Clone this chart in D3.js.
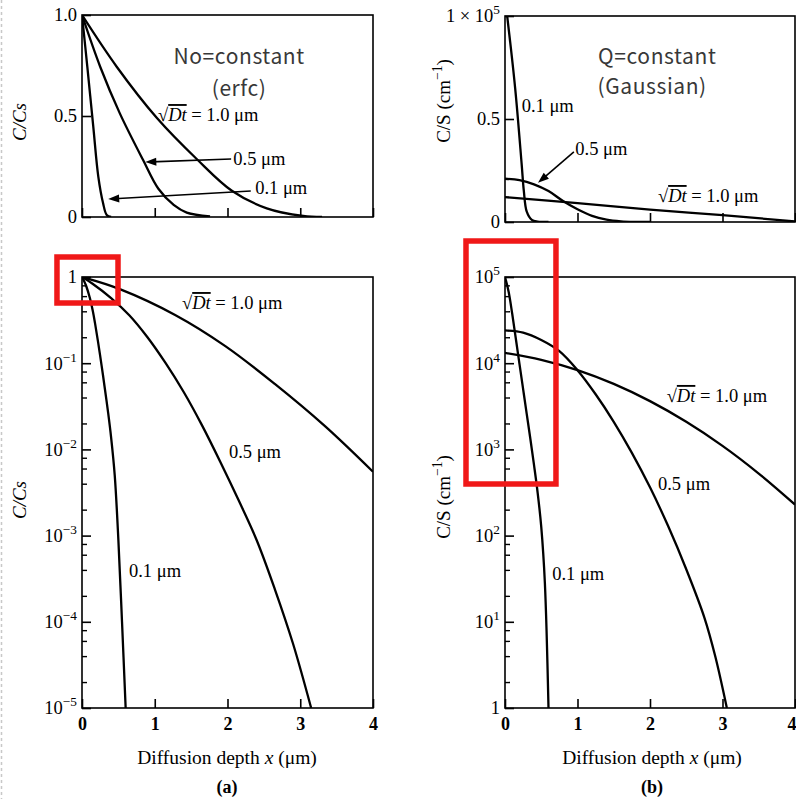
<!DOCTYPE html>
<html><head><meta charset="utf-8">
<script src="https://cdn.jsdelivr.net/npm/d3@7"></script>
<style>body{margin:0;background:#fff}svg{display:block}</style>
</head><body>
<svg id="c" width="796" height="799"></svg>
<script>
// ---------- data ----------
const depthTicks = [0, 1, 2, 3, 4];            // diffusion depth x (µm)

// (a) erfc, linear panel, C/Cs
const erfcLinDepth10 = [0, 0.477, 1.03, 1.58, 2.06, 2.54, 3.04, 3.3];
const erfcLinValue10 = [1, 0.744, 0.49, 0.286, 0.13, 0.043, 0.005, 0];
const erfcLinDepth05 = [0, 0.25, 0.52, 0.84, 1.05, 1.26, 1.44, 1.76];
const erfcLinValue05 = [1, 0.744, 0.513, 0.282, 0.14, 0.06, 0.022, 0.003];
const erfcLinDepth01 = [0, 0.073, 0.155, 0.224, 0.29, 0.34, 0.4];
const erfcLinValue01 = [1, 0.744, 0.447, 0.2, 0.068, 0.01, 0];

// (a) erfc, log panel, C/Cs
const erfcLogDepth10 = [0, 0.52, 1.28, 1.97, 2.65, 3.34, 4];
const erfcLogValue10 = [1, 0.724, 0.363, 0.158, 0.0575, 0.0186, 0.0055];
const erfcLogDepth05 = [0, 0.15, 0.4, 0.65, 0.9, 1.15, 1.4, 1.65, 1.9, 2.15, 2.4, 2.65, 2.9, 3.15];
const erfcLogValue05 = [1, 0.83, 0.57, 0.36, 0.2, 0.1, 0.046, 0.019, 0.0072, 0.0026, 0.00089, 0.00024, 0.000056, 0.00001];
const erfcLogDepth01 = [0, 0.03, 0.06, 0.11, 0.15, 0.18, 0.22, 0.27, 0.31, 0.36, 0.4, 0.45, 0.5, 0.55, 0.6];
const erfcLogValue01 = [1, 0.89, 0.776, 0.562, 0.398, 0.288, 0.178, 0.0933, 0.0537, 0.0263, 0.0138, 0.005, 0.00089, 0.0001, 0.00001];

// (b) Gaussian, linear panel, C/S (cm^-1)
const gLinDepth10 = [0, 1, 2, 3, 4];
const gLinValue10 = [12100, 9200, 6000, 3300, 300];
const gLinDepth05 = [0, 0.2, 0.4, 0.6, 0.8, 1.0, 1.2, 1.4, 1.6, 1.8, 2.0];
const gLinValue05 = [21000, 20300, 18300, 15000, 10200, 6200, 3000, 1200, 350, 60, 0];
const gLinDepth01 = [0.03, 0.14, 0.23, 0.26, 0.3, 0.37, 0.45, 0.6];
const gLinValue01 = [100000, 65000, 28000, 15000, 5000, 1000, 200, 0];

// (b) Gaussian, log panel, C/S (cm^-1)
const gLogDepth10 = [0, 0.5, 1, 1.5, 2, 2.5, 3, 3.5, 4];
const gLogValue10 = [13200, 10960, 8320, 5750, 3630, 2090, 1100, 525, 229];
const gLogDepth05 = [0, 0.25, 0.5, 0.75, 1.0, 1.25, 1.5, 1.75, 2.0, 2.25, 2.5, 2.75, 2.9, 3.06];
const gLogValue05 = [24000, 22650, 18600, 13800, 8300, 4365, 2090, 912, 363, 129, 40.7, 11.2, 3.98, 1];
const gLogDepth01 = [0, 0.05, 0.1, 0.15, 0.2, 0.25, 0.3, 0.35, 0.4, 0.45, 0.5, 0.55, 0.6];
const gLogValue01 = [100000, 67600, 37200, 19100, 9770, 5010, 2570, 1320, 661, 316, 126, 28.2, 1];

// tick values
const linTicksA = [0, 0.5, 1];
const linTicksB = [0, 50000, 100000];
const logTicksA = [1e-5, 1e-4, 1e-3, 1e-2, 1e-1, 1];
const logTicksB = [1, 1e1, 1e2, 1e3, 1e4, 1e5];
const minorMult = [2, 4, 6, 8];

// ---------- drawing ----------
const svg = d3.select('#c');
const serif = '"Liberation Serif","Times New Roman",serif';
const sans = '"Noto Sans CJK KR","Noto Sans",sans-serif';
const zip = (xs, vs) => xs.map((x, i) => [x, vs[i]]);

// dashed page edge
svg.append('line').attr('x1', 1.5).attr('x2', 1.5).attr('y1', 0).attr('y2', 799)
  .attr('stroke', '#c8c8c8').attr('stroke-width', 1.5).attr('stroke-dasharray', '3,3');

function addSup(t, base, sup, after) {
  t.append('tspan').text(base);
  t.append('tspan').attr('dy', -8).attr('font-size', '0.72em').text(sup);
  if (after) t.append('tspan').attr('dy', 8).text(after);
}
function dtLabel(g, px, py) {
  const t = g.append('text').attr('x', px).attr('y', py)
    .attr('font-family', serif).attr('font-size', 18.5).attr('fill', '#000');
  t.append('tspan').text('√');
  t.append('tspan').attr('font-style', 'italic').attr('text-decoration', 'overline').text('Dt');
  t.append('tspan').text(' = 1.0 μm');
}

const panels = [
  { key: 'tl', xr: [82, 373], yr: [217, 15], log: false, yd: [0, 1],
    series: [zip(erfcLinDepth10, erfcLinValue10), zip(erfcLinDepth05, erfcLinValue05), zip(erfcLinDepth01, erfcLinValue01)],
    major: linTicksA, xLabels: false,
    fmt: (t, v) => t.text(v === 1 ? '1.0' : v === 0.5 ? '0.5' : '0') },
  { key: 'tr', xr: [505, 795], yr: [222, 16], log: false, yd: [0, 1e5],
    series: [zip(gLinDepth10, gLinValue10), zip(gLinDepth05, gLinValue05), zip(gLinDepth01, gLinValue01)],
    major: linTicksB, xLabels: false,
    fmt: (t, v) => v === 1e5 ? addSup(t, '1 × 10', '5') : t.text(v === 0 ? '0' : '0.5') },
  { key: 'bl', xr: [82, 373], yr: [708, 277], log: true, yd: [1e-5, 1],
    series: [zip(erfcLogDepth10, erfcLogValue10), zip(erfcLogDepth05, erfcLogValue05), zip(erfcLogDepth01, erfcLogValue01)],
    major: logTicksA, xLabels: true,
    fmt: (t, v) => v === 1 ? t.text('1') : addSup(t, '10', '−' + Math.round(-Math.log10(v))) },
  { key: 'br', xr: [505, 795], yr: [708, 277], log: true, yd: [1, 1e5],
    series: [zip(gLogDepth10, gLogValue10), zip(gLogDepth05, gLogValue05), zip(gLogDepth01, gLogValue01)],
    major: logTicksB, xLabels: true,
    fmt: (t, v) => v === 1 ? t.text('1') : addSup(t, '10', String(Math.round(Math.log10(v)))) }
];

panels.forEach(p => {
  const x = d3.scaleLinear().domain([0, 4]).range(p.xr);
  const y = (p.log ? d3.scaleLog() : d3.scaleLinear()).domain(p.yd).range(p.yr);
  p.x = x; p.y = y;
  const g = svg.append('g');
  g.append('clipPath').attr('id', 'clip-' + p.key).append('rect')
    .attr('x', p.xr[0]).attr('y', p.yr[1]).attr('width', p.xr[1] - p.xr[0]).attr('height', p.yr[0] - p.yr[1]);

  const line = d3.line().x(d => x(d[0])).y(d => y(d[1])).curve(d3.curveCatmullRom.alpha(0.5));
  g.append('g').attr('clip-path', `url(#clip-${p.key})`).selectAll('path')
    .data(p.series)
    .join('path').attr('d', line).attr('fill', 'none').attr('stroke', '#000')
    .attr('stroke-width', 2.3).attr('stroke-linejoin', 'round');

  // frame
  g.append('rect').attr('x', p.xr[0]).attr('y', p.yr[1])
    .attr('width', p.xr[1] - p.xr[0]).attr('height', p.yr[0] - p.yr[1])
    .attr('fill', 'none').attr('stroke', '#000').attr('stroke-width', 1.6);

  // x axis (ticks inside)
  const xa = g.append('g').attr('transform', `translate(0,${p.yr[0]})`)
    .call(d3.axisBottom(x).tickValues(depthTicks).tickSize(-9).tickPadding(9)
      .tickFormat(p.xLabels ? d3.format('d') : () => ''));
  xa.select('.domain').remove();
  xa.selectAll('line').attr('stroke-width', 1.6);
  xa.selectAll('text').attr('font-family', serif).attr('font-size', 18).attr('font-weight', 'bold').attr('fill', '#000');
  if (p.key === 'br') {
    xa.selectAll('text').filter(d => d === 4).attr('text-anchor', 'end').attr('x', 796 - x(4));
  }

  // y axis major ticks
  const ya = g.append('g').attr('transform', `translate(${p.xr[0]},0)`)
    .call(d3.axisLeft(y).tickValues(p.major).tickSize(-9).tickFormat(() => ''));
  ya.select('.domain').remove();
  ya.selectAll('line').attr('stroke-width', 1.6);
  if (p.log) {
    const minor = [];
    p.major.slice(0, -1).forEach(m => minorMult.forEach(k => minor.push(m * k)));
    const ym = g.append('g').attr('transform', `translate(${p.xr[0]},0)`)
      .call(d3.axisLeft(y).tickValues(minor).tickSize(-5).tickFormat(() => ''));
    ym.select('.domain').remove();
    ym.selectAll('line').attr('stroke-width', 1.4);
  }
  // y labels
  p.major.forEach(v => {
    const t = g.append('text').attr('x', p.xr[0] - 5).attr('y', y(v)).attr('dy', '0.35em')
      .attr('text-anchor', 'end').attr('font-family', serif).attr('font-size', 18.5).attr('fill', '#000');
    p.fmt(t, v);
  });
});

const [TL, TR, BL, BR] = panels;

// y-axis titles
function yTitle(cx, cy, build) {
  const t = svg.append('text').attr('transform', `translate(${cx},${cy}) rotate(-90)`)
    .attr('text-anchor', 'middle').attr('font-family', serif).attr('font-size', 19).attr('fill', '#000');
  build(t);
}
yTitle(26, 122, t => t.attr('font-style', 'italic').text('C/Cs'));
yTitle(26, 500, t => t.attr('font-style', 'italic').text('C/Cs'));
yTitle(450, 101, t => addSup(t, 'C/S (cm', '−1', ')'));
yTitle(450, 497, t => addSup(t, 'C/S (cm', '−1', ')'));

// x-axis titles and panel letters
[[BL, '(a)', 227], [BR, '(b)', 652]].forEach(([p, letter, cx]) => {
  const t = svg.append('text').attr('x', cx).attr('y', 764).attr('text-anchor', 'middle')
    .attr('font-family', serif).attr('font-size', 19.5).attr('fill', '#000');
  t.append('tspan').text('Diffusion depth ');
  t.append('tspan').attr('font-style', 'italic').text('x');
  t.append('tspan').text(' (μm)');
  svg.append('text').attr('x', cx).attr('y', 793).attr('text-anchor', 'middle')
    .attr('font-family', serif).attr('font-size', 18).attr('font-weight', 'bold').text(letter);
});

// annotation texts (positions in data units)
function txt(p, dx, dv, s, opts = {}) {
  return svg.append('text').attr('x', p.x(dx)).attr('y', p.y(dv))
    .attr('text-anchor', opts.anchor || 'start')
    .attr('font-family', opts.sans ? sans : serif)
    .attr('letter-spacing', opts.sans ? 0.6 : 0)
    .attr('font-size', opts.size || 18.5).attr('fill', opts.fill || '#000').text(s);
}
function arrow(p, x1, v1, x2, v2) {
  const X1 = p.x(x1), Y1 = p.y(v1), X2 = p.x(x2), Y2 = p.y(v2);
  const ang = Math.atan2(Y2 - Y1, X2 - X1), L = 11, W = 4;
  svg.append('line').attr('x1', X1).attr('y1', Y1)
    .attr('x2', X2 - Math.cos(ang) * 6).attr('y2', Y2 - Math.sin(ang) * 6)
    .attr('stroke', '#000').attr('stroke-width', 1.6);
  const bx = X2 - Math.cos(ang) * L, by = Y2 - Math.sin(ang) * L;
  svg.append('path').attr('d',
    `M${X2},${Y2}L${bx - Math.sin(ang) * W},${by + Math.cos(ang) * W}L${bx + Math.sin(ang) * W},${by - Math.cos(ang) * W}Z`)
    .attr('fill', '#000');
}

// panel (a) linear
txt(TL, 2.16, 0.757, 'No=constant', { sans: true, size: 21, anchor: 'middle', fill: '#383838' });
txt(TL, 2.16, 0.599, '(erfc)', { sans: true, size: 21, anchor: 'middle', fill: '#383838' });
dtLabel(svg, TL.x(1.045), TL.y(0.475));
txt(TL, 2.08, 0.257, '0.5 μm');
txt(TL, 2.38, 0.114, '0.1 μm');
arrow(TL, 2.05, 0.287, 0.87, 0.272);
arrow(TL, 2.32, 0.129, 0.36, 0.089);

// panel (b) linear
txt(TR, 2.10, 76700, 'Q=constant', { sans: true, size: 21, anchor: 'middle', fill: '#383838' });
txt(TR, 2.03, 62100, '(Gaussian)', { sans: true, size: 21, anchor: 'middle', fill: '#383838' });
txt(TR, 0.23, 53400, '0.1 μm');
txt(TR, 0.97, 32500, '0.5 μm');
arrow(TR, 0.95, 34000, 0.455, 19000);
dtLabel(svg, TR.x(2.11), TR.y(9700));

// panel (a) log
dtLabel(svg, BL.x(1.375), BL.y(0.425));
txt(BL, 2.02, 0.0079, '0.5 μm');
txt(BL, 0.646, 3.3e-4, '0.1 μm');

// panel (b) log
dtLabel(svg, BR.x(2.23), BR.y(3550));
txt(BR, 2.11, 339, '0.5 μm');
txt(BR, 0.65, 30.5, '0.1 μm');

// red highlight boxes (data units)
function redBox(p, x0, x1, v0, v1) {
  svg.append('rect').attr('x', p.x(x0)).attr('y', p.y(v1))
    .attr('width', p.x(x1) - p.x(x0)).attr('height', p.y(v0) - p.y(v1))
    .attr('fill', 'none').attr('stroke', '#f01818').attr('stroke-width', 5.5);
}
redBox(BL, -0.344, 0.495, 10 ** (-26 / 86.2), 10 ** (20 / 86.2));
redBox(BR, -0.538, 0.703, 10 ** (5 - 207 / 86.2), 10 ** (5 + 36 / 86.2));
</script>
</body></html>
